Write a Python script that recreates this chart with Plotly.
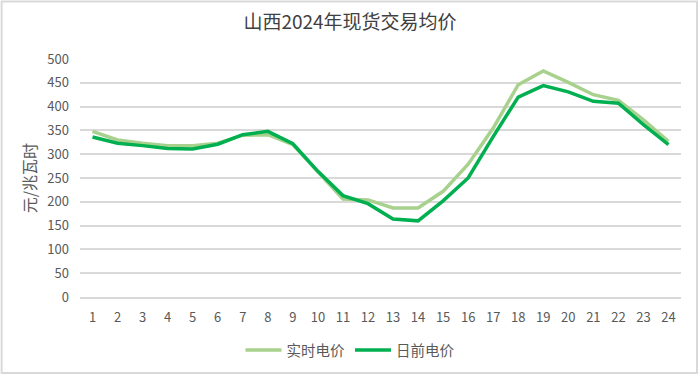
import plotly.graph_objects as go

hours = [str(h) for h in range(1, 25)]
realtime = [348, 330, 323, 318, 318, 323, 340, 341, 320, 262, 206, 204, 187, 187, 222, 279, 355, 446, 475, 451, 425, 413, 372, 327]
dayahead = [336, 323, 318, 312, 311, 321, 341, 348, 322, 264, 213, 196, 164, 160, 202, 250, 337, 420, 444, 431, 411, 407, 362, 320]
y_ticks = list(range(0, 501, 50))

font_cjk = "Noto Sans CJK SC, Noto Sans, sans-serif"

fig = go.Figure()
fig.add_trace(go.Scatter(x=hours, y=realtime, name="实时电价", mode="lines",
                         line=dict(color="#a9d18e", width=3.5)))
fig.add_trace(go.Scatter(x=hours, y=dayahead, name="日前电价", mode="lines",
                         line=dict(color="#00b050", width=3.5)))

fig.update_layout(
    width=700, height=375,
    margin=dict(l=80, r=19, t=59, b=78, autoexpand=False),
    paper_bgcolor="white", plot_bgcolor="white",
    font=dict(family=font_cjk, color="#595959", size=13),
    title=dict(text="山西2024年现货交易均价", x=0.5, xanchor="center", y=1 - 22 / 375, yanchor="middle",
               font=dict(size=19, color="#404040", family=font_cjk)),
    showlegend=True,
    legend=dict(orientation="h", x=(350 - 80) / 601, xanchor="center", y=-53 / 238, yanchor="middle",
                font=dict(size=14.5, color="#595959"), itemwidth=36, tracegroupgap=0,
                bgcolor="rgba(0,0,0,0)"),
    xaxis=dict(type="category", range=[-0.5, 23.5], showgrid=False, showline=True,
               linecolor="#d9d9d9", linewidth=1.5, ticks="", ticklabelstandoff=8,
               tickfont=dict(size=13, color="#595959"), zeroline=False, fixedrange=True),
    yaxis=dict(range=[0, 500], tickvals=y_ticks, showgrid=True, gridcolor="#d9d9d9", gridwidth=1.5,
               showline=False, zeroline=False, ticks="", ticklabelstandoff=10,
               tickfont=dict(size=13, color="#595959"),
               title=dict(text="元/兆瓦时", font=dict(size=16, color="#595959"), standoff=6)),
)

fig.add_shape(type="rect", xref="paper", yref="paper",
              x0=(1.5 - 80) / 602, x1=(698 - 80) / 602, y0=(297 - 373) / 238, y1=(297 - 1.5) / 238,
              line=dict(color="#d9d9d9", width=2), fillcolor="rgba(0,0,0,0)", layer="below")

fig.write_html("out.html", post_script="document.body.style.margin='0';", config={"displayModeBar": False})
